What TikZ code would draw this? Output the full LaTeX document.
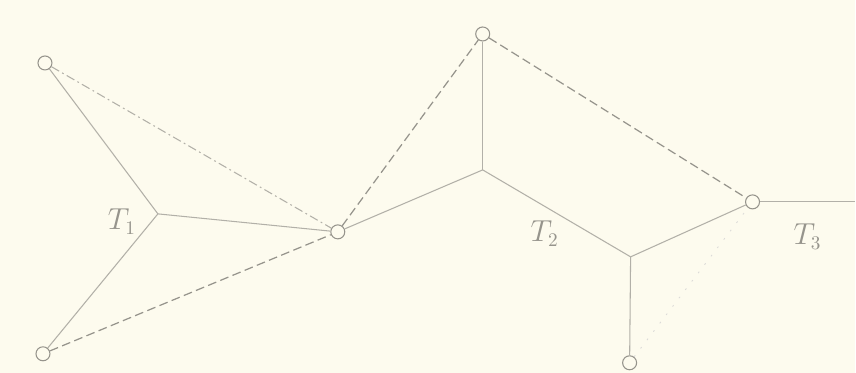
\documentclass[tikz,border=0pt]{standalone}
\usepackage{tikz}
\usetikzlibrary{positioning}
\definecolor{paper}{RGB}{253,251,238}
\definecolor{ink}{RGB}{178,176,168}
\definecolor{dink}{RGB}{150,148,140}

\begin{document}
\begin{tikzpicture}[
  x=0.02cm, y=-0.02cm,
  term/.style={circle, draw=dink, line width=0.6pt, fill=paper,
               inner sep=0pt, minimum size=0.28cm},
  edge/.style={draw=ink, line width=0.6pt},
  dedge/.style={draw=dink, line width=0.7pt, dash pattern=on 5pt off 2.5pt},
  dotedge/.style={draw=ink, line width=0.6pt,
                  dash pattern=on 5pt off 2pt on 1pt off 2pt},
  faint/.style={draw=ink!45, line width=0.5pt, dash pattern=on 1pt off 5pt},
  lab/.style={text=dink, font=\fontsize{16}{18}\selectfont}
]
\fill[paper] (0,0) rectangle (856,373);
% ── terminals ─────────────
\node[term] (a) at (45,63) {};
\node[term] (b) at (43,354) {};
\node[term] (c) at (338,232) {};
\node[term] (d) at (483,34) {};
\node[term] (e) at (753,202) {};
\node[term] (f) at (630,363) {};
% ── Steiner points ────────
\coordinate (s1) at (158,214);
\coordinate (s2) at (483,170);
\coordinate (s3) at (631,257);
\coordinate (out) at (856,202);
% ── tree edges ────────────
\draw[edge] (a) -- (s1);
\draw[edge] (b) -- (s1);
\draw[edge] (s1) -- (c);
\draw[edge] (c) -- (s2);
\draw[edge] (d) -- (s2);
\draw[edge] (s2) -- (s3);
\draw[edge] (s3) -- (e);
\draw[edge] (s3) -- (f);
\draw[edge] (e) -- (out);
% ── dashed chords ─────────
\draw[dotedge] (a) -- (c);
\draw[dedge] (b) -- (c);
\draw[dedge] (c) -- (d);
\draw[dedge] (d) -- (e);
\draw[faint] (f) -- (e);
% ── labels ────────────────
\node[lab] (t1) at (122,222) {$T_1$};
\node[lab] (t2) at (545,234) {$T_2$};
\node[lab] (t3) at (808,237) {$T_3$};
\end{tikzpicture}
\end{document}
